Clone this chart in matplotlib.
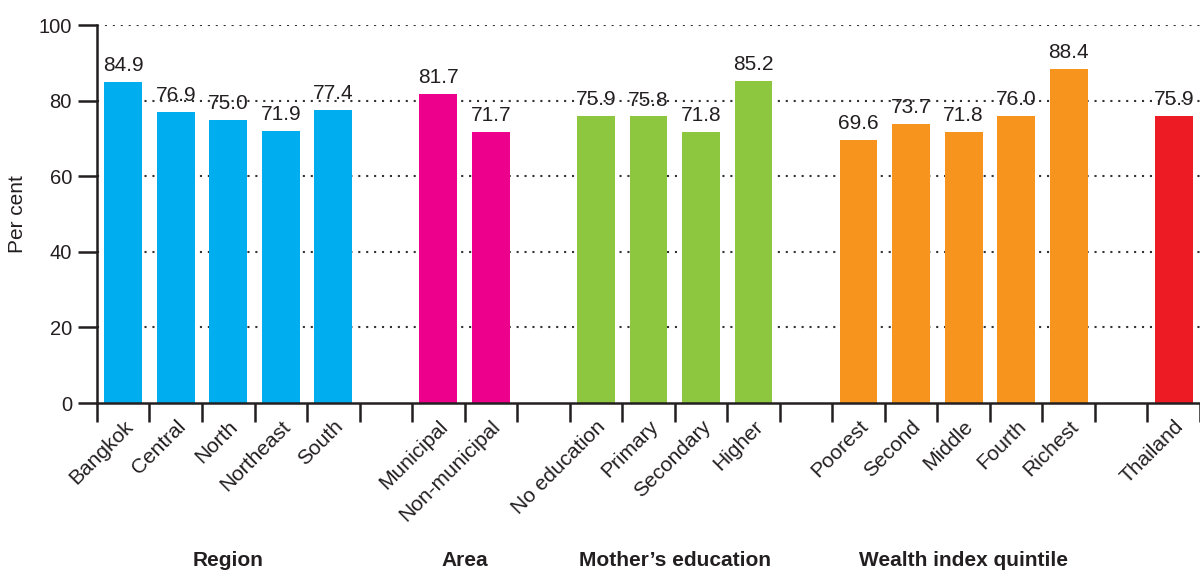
import numpy as np
import matplotlib.pyplot as plt

plt.rcParams['font.family'] = ['Liberation Sans', 'DejaVu Sans']

# data
region = ['Bangkok', 'Central', 'North', 'Northeast', 'South']
region_val = [84.9, 76.9, 75.0, 71.9, 77.4]
area = ['Municipal', 'Non-municipal']
area_val = [81.7, 71.7]
educ = ['No education', 'Primary', 'Secondary', 'Higher']
educ_val = [75.9, 75.8, 71.8, 85.2]
wealth = ['Poorest', 'Second', 'Middle', 'Fourth', 'Richest']
wealth_val = [69.6, 73.7, 71.8, 76.0, 88.4]
total = ['Thailand']
total_val = [75.9]

groups = [('Region', region, region_val, '#00AEEF'),
          ('Area', area, area_val, '#EC008C'),
          ("Mother\u2019s education", educ, educ_val, '#8DC63F'),
          ('Wealth index quintile', wealth, wealth_val, '#F7941D'),
          (None, total, total_val, '#ED1C24')]

txt = '#231F20'
fig = plt.figure(figsize=(12, 5.71), dpi=100)
ax = fig.add_axes([0.0808, 0.2942, 0.9192, 0.662])

pos = 0
labels, label_pos = [], []
for gname, cats, vals, col in groups:
    x = np.arange(pos, pos + len(cats))
    ax.bar(x, vals, width=0.72, color=col, zorder=3)
    for xi, v in zip(x, vals):
        ax.annotate(f'{v:.1f}', (xi, v), xytext=(0, 5), textcoords='offset points',
                    ha='center', va='bottom', fontsize=15, color=txt, zorder=1)
    labels += cats
    label_pos += list(x)
    if gname:
        ax.text(x.mean(), -43.2, gname, ha='center', va='baseline', fontsize=15,
                fontweight='bold', color=txt, clip_on=False)
    pos += len(cats) + 1

ax.set_xlim(-0.5, 20.35)
ax.set_ylim(0, 100)
ax.set_yticks([0, 20, 40, 60, 80, 100])
ax.tick_params(axis='y', length=14, width=1.8, labelsize=14.5, colors=txt, pad=4)
ax.set_xticks(label_pos)
ax.set_xticklabels(labels, rotation=45, ha='right', rotation_mode='anchor', fontsize=15, color=txt)
ax.tick_params(axis='x', which='major', length=0, pad=10)
ax.set_xticks(np.arange(-0.5, 21, 1), minor=True)
ax.tick_params(axis='x', which='minor', length=14, width=1.8, color=txt)

# dotted grid
for y in [20, 40, 60, 80, 100]:
    ax.axhline(y, color='#333333', linestyle=(0, (1, 2.8)), linewidth=1.5, zorder=2)

for s in ['top', 'right']:
    ax.spines[s].set_visible(False)
for s in ['left', 'bottom']:
    ax.spines[s].set_linewidth(1.8)
    ax.spines[s].set_color(txt)
    ax.spines[s].set_zorder(4)

ax.set_ylabel('Per cent', fontsize=15, color=txt, labelpad=8)

fig.savefig('out.png', dpi=100)
